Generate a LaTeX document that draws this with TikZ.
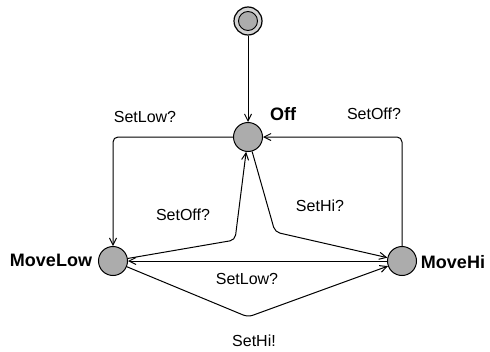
\documentclass[tikz,border=0pt]{standalone}
\usepackage{fontspec}
\setmainfont{Liberation Sans}
\usetikzlibrary{arrows.meta}
\begin{document}
\begin{tikzpicture}[x=1pt,y=-1pt,
  state/.style={circle,draw=black,line width=1pt,fill=gray!65,minimum size=29pt,inner sep=0pt},
  initouter/.style={circle,draw=black,line width=1.2pt,fill=gray!35,minimum size=28pt,inner sep=0pt},
  initinner/.style={circle,draw=black,line width=0.9pt,fill=gray!65,minimum size=19pt,inner sep=0pt},
  statename/.style={font=\fontsize{18}{21}\selectfont\bfseries,inner sep=0pt},
  guard/.style={font=\fontsize{16}{19}\selectfont,inner sep=0pt},
  trans/.style={line width=1pt,rounded corners=5pt,-{Straight Barb[length=7pt,width=7pt]}}]
\useasboundingbox (0,0) rectangle (490,351);

% locations
\node[initouter] (init) at (248,21) {};
\node[initinner] (initcore) at (248,21) {};
\node[state] (off) at (248,137) {};
\node[state] (movelow) at (113,261) {};
\node[state] (movehi) at (402,261) {};

% location names
\node[statename] (offname) at (283,114) {Off};
\node[statename] (lowname) at (51,260) {MoveLow};
\node[statename] (hiname) at (453,262) {MoveHi};

% bend points of the slanted edges
\coordinate (bendhi) at (275,232);
\coordinate (bendoff) at (235,240);
\coordinate (bendsethi) at (248,317);

% transitions
\draw[trans] (init) -- (off);
\draw[trans] (off.west) -| (movelow.north);
\draw[trans] (movehi.north) |- (off.east);
\draw[trans] (off) -- (bendhi) -- (movehi);
\draw[trans] (movelow) -- (bendoff) -- (off);
\draw[trans] (movehi) -- (movelow);
\draw[trans] (movelow) -- (bendsethi) -- (movehi);

% guards and synchronisations
\node[guard] (g1) at (145,117) {SetLow?};
\node[guard] (g2) at (374,114) {SetOff?};
\node[guard] (g3) at (320,206) {SetHi?};
\node[guard] (g4) at (183,215) {SetOff?};
\node[guard] (g5) at (247,279) {SetLow?};
\node[guard] (g6) at (254,341) {SetHi!};
\end{tikzpicture}
\end{document}
